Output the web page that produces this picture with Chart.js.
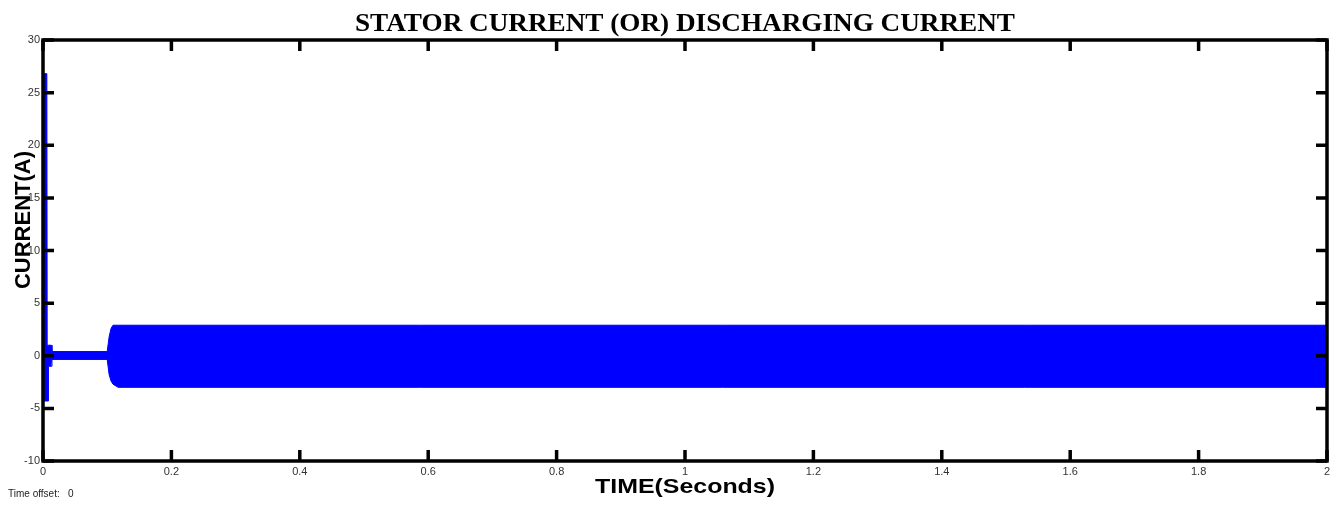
<!DOCTYPE html>
<html>
<head>
<meta charset="utf-8">
<script src="https://cdn.jsdelivr.net/npm/chart.js@4.4.1/dist/chart.umd.min.js"></script>
<style>
  html, body { margin: 0; padding: 0; background: #fff; }
  #wrap { width: 1340px; height: 505px; position: relative; }
</style>
</head>
<body>
<div id="wrap"><canvas id="c"></canvas></div>
<script>
// ---- data (envelope of the dense current trace) ----
const timeSec      = [0, 0.0003, 0.006, 0.0065, 0.008, 0.0085, 0.013, 0.014, 0.1, 0.103, 0.106, 0.109, 0.117, 2.0];
const currentUpper = [0, 26.8, 26.8, 1.0, 1.0, 1.0, 1.0, 0.4, 0.4, 1.8, 2.6, 2.9, 2.9, 2.9];
const currentLower = [0, -4.3, -4.3, -4.3, -4.3, -1.0, -1.0, -0.35, -0.35, -1.8, -2.4, -2.7, -3.0, -3.0];
const xTickValues  = [0, 0.2, 0.4, 0.6, 0.8, 1, 1.2, 1.4, 1.6, 1.8, 2];
const yTickValues  = [-10, -5, 0, 5, 10, 15, 20, 25, 30];
const titleText  = 'STATOR CURRENT (OR) DISCHARGING CURRENT';
const xTitleText = 'TIME(Seconds)';
const yTitleText = 'CURRENT(A)';
const offsetText = 'Time offset:   0';

const BLUE = '#0000FF';
const upperPts = timeSec.map((t, i) => ({ x: t, y: currentUpper[i] }));
const lowerPts = timeSec.map((t, i) => ({ x: t, y: currentLower[i] }));

function fitText(ctx, text, cx, cy, width) {
  const w = ctx.measureText(text).width;
  ctx.save();
  ctx.translate(cx, cy);
  ctx.scale(width / w, 1);
  ctx.fillText(text, 0, 0);
  ctx.restore();
}

const framePlugin = {
  id: 'frame',
  afterDraw(chart) {
    const { ctx, chartArea: a, scales } = chart;
    const xs = scales.x, ys = scales.y;
    ctx.save();
    ctx.strokeStyle = '#000';
    ctx.lineWidth = 3.5;
    ctx.strokeRect(a.left, a.top, a.right - a.left, a.bottom - a.top);
    const tl = 11;
    ctx.beginPath();
    xTickValues.forEach(v => {
      const px = xs.getPixelForValue(v);
      ctx.moveTo(px, a.bottom); ctx.lineTo(px, a.bottom - tl);
      ctx.moveTo(px, a.top); ctx.lineTo(px, a.top + tl);
    });
    yTickValues.forEach(v => {
      const py = ys.getPixelForValue(v);
      ctx.moveTo(a.left, py); ctx.lineTo(a.left + tl, py);
      ctx.moveTo(a.right, py); ctx.lineTo(a.right - tl, py);
    });
    ctx.stroke();
    ctx.fillStyle = '#000';
    const cx = (a.left + a.right) / 2;
    ctx.textAlign = 'center';
    ctx.textBaseline = 'alphabetic';
    ctx.font = 'bold 26px "Liberation Serif", "Times New Roman", serif';
    fitText(ctx, titleText, cx, 31, 660);
    ctx.font = 'bold 21px "Liberation Sans", Arial, sans-serif';
    ctx.textBaseline = 'middle';
    fitText(ctx, xTitleText, cx, 487, 180);
    ctx.save();
    ctx.translate(24, 220);
    ctx.rotate(-Math.PI / 2);
    ctx.font = 'bold 22px "Liberation Sans", Arial, sans-serif';
    ctx.fillText(yTitleText, 0, 0);
    ctx.restore();
    ctx.textAlign = 'left';
    ctx.font = '10px "Liberation Sans", Arial, sans-serif';
    ctx.fillStyle = '#222';
    ctx.fillText(offsetText, 8, 494);
    ctx.restore();
  }
};

new Chart(document.getElementById('c'), {
  type: 'line',
  data: {
    datasets: [
      { data: upperPts, borderColor: BLUE, backgroundColor: BLUE, borderWidth: 1, pointRadius: 0, fill: '+1', tension: 0 },
      { data: lowerPts, borderColor: BLUE, backgroundColor: BLUE, borderWidth: 1, pointRadius: 0, fill: false, tension: 0 }
    ]
  },
  options: {
    responsive: true,
    maintainAspectRatio: false,
    animation: false,
    events: [],
    layout: { padding: { left: 0, right: 13, top: 40, bottom: 0 } },
    plugins: { legend: { display: false }, title: { display: false }, tooltip: { enabled: false } },
    scales: {
      x: {
        type: 'linear', min: 0, max: 2,
        afterBuildTicks: s => { s.ticks = xTickValues.map(v => ({ value: v })); },
        afterFit: s => { s.height = 44; },
        grid: { display: false, drawTicks: false },
        border: { display: false },
        ticks: { padding: 4, color: '#333', font: { family: '"Liberation Sans", Arial, sans-serif', size: 11 }, maxRotation: 0, autoSkip: false,
                 callback: v => String(Number(v)) }
      },
      y: {
        type: 'linear', min: -10, max: 30,
        afterBuildTicks: s => { s.ticks = yTickValues.map(v => ({ value: v })); },
        afterFit: s => { s.width = 43; },
        grid: { display: false, drawTicks: false },
        border: { display: false },
        ticks: { padding: 3, color: '#333', font: { family: '"Liberation Sans", Arial, sans-serif', size: 11 }, autoSkip: false,
                 callback: v => String(Number(v)) }
      }
    }
  },
  plugins: [framePlugin]
});
</script>
</body>
</html>
